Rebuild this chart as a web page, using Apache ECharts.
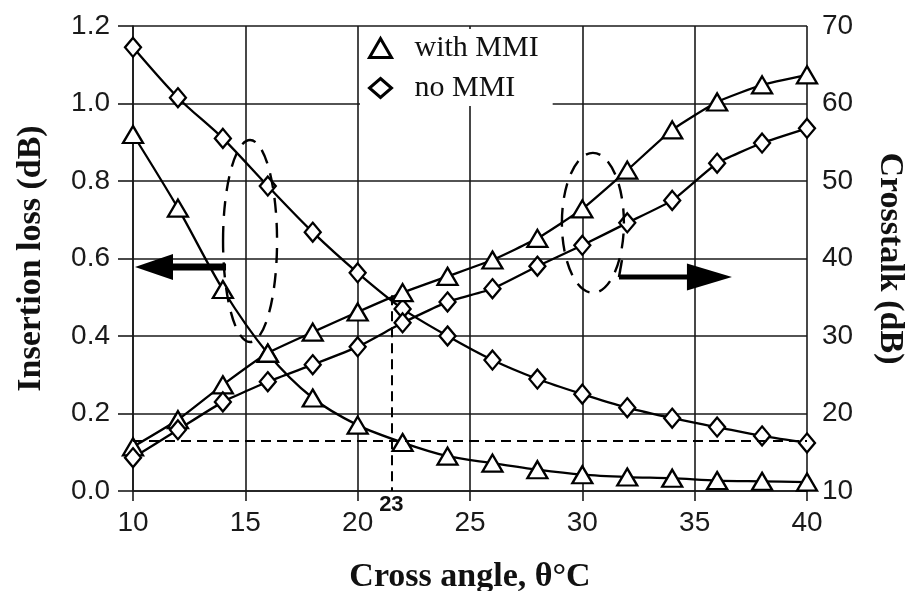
<!DOCTYPE html>
<html>
<head>
<meta charset="utf-8">
<script src="https://cdn.jsdelivr.net/npm/echarts@6/dist/echarts.min.js"></script>
<style>
  html, body { margin: 0; padding: 0; background: #fff; }
  #chart { width: 910px; height: 591px; }
</style>
</head>
<body>
<div id="chart"></div>
<script>
// Cross angle (deg)
const angles = [10, 12, 14, 16, 18, 20, 22, 24, 26, 28, 30, 32, 34, 36, 38, 40];

// Insertion loss (dB), left axis
const lossWithMMI = [0.92, 0.73, 0.52, 0.355, 0.24, 0.17, 0.125, 0.09, 0.072, 0.055, 0.042, 0.036, 0.033, 0.027, 0.025, 0.023];
const lossNoMMI = [1.145, 1.015, 0.91, 0.787, 0.668, 0.563, 0.47, 0.40, 0.338, 0.289, 0.25, 0.215, 0.188, 0.165, 0.142, 0.124];

// Crosstalk (dB), right axis
const xtalkWithMMI = [15.7, 19.2, 23.7, 27.8, 30.5, 33.1, 35.6, 37.7, 39.8, 42.6, 46.4, 51.4, 56.6, 60.2, 62.4, 63.7];
const xtalkNoMMI = [14.3, 17.9, 21.5, 24.1, 26.3, 28.6, 31.7, 34.4, 36.1, 39.0, 41.7, 44.6, 47.5, 52.3, 54.9, 56.8];

// reference lines: loss level and crossing angle
const lossLevel = 0.13;
const crossAngle = 21.5;
const crossLoss = 0.505;
const crossLabel = '23';

const INK = '#111';
const SANS = 'Liberation Sans, Arial, sans-serif';
const SERIF = 'Liberation Serif, Times New Roman, serif';

const pairs = (xs, ys) => xs.map((x, i) => [x, ys[i]]);

const chart = echarts.init(document.getElementById('chart'));

function lineSeries(name, data, yAxisIndex, symbol, size, smooth) {
    return {
        name: name,
        type: 'line',
        yAxisIndex: yAxisIndex,
        data: data,
        symbol: symbol,
        symbolSize: size,
        smooth: smooth,
        lineStyle: { color: '#000', width: 2.3 },
        itemStyle: { color: '#fff', borderColor: '#000', borderWidth: 2.3 },
        emphasis: { disabled: true },
        z: 3
    };
}

const triSize = [20, 17];
const diaSize = [16, 19];

const lossWith = lineSeries('with MMI', pairs(angles, lossWithMMI), 0, 'triangle', triSize, 0.3);
lossWith.markLine = {
    silent: true,
    symbol: ['none', 'none'],
    lineStyle: { color: '#000', width: 2, type: [10, 6] },
    label: { show: false },
    data: [
        [{ coord: [angles[0], lossLevel] }, { coord: [angles[angles.length - 1], lossLevel] }],
        [
            { coord: [crossAngle, crossLoss] },
            {
                coord: [crossAngle, 0],
                label: {
                    show: true, position: 'end', distance: 3, formatter: crossLabel,
                    fontFamily: SANS, fontWeight: 'bold', fontSize: 22, color: INK
                }
            }
        ]
    ]
};

const axisLabelStyle = { fontFamily: SANS, fontSize: 28, color: '#1a1a1a' };
const nameStyle = { fontFamily: SERIF, fontWeight: 'bold', fontSize: 34, color: INK };
const gridLine = { color: '#1a1a1a', width: 1.6 };

const option = {
    animation: false,
    backgroundColor: '#fff',
    grid: { left: 133, right: 103, top: 26, bottom: 100, containLabel: false, outerBoundsMode: 'none' },
    legend: {
        orient: 'vertical',
        left: 360,
        top: 29,
        padding: [4, 14, 3, 8],
        itemGap: 10,
        itemWidth: 22,
        itemHeight: 19,
        backgroundColor: '#fff',
        selectedMode: false,
        itemStyle: { color: '#fff', borderColor: '#000', borderWidth: 3 },
        textStyle: { fontFamily: SERIF, fontSize: 30, color: INK, padding: [0, 0, 0, 18] },
        data: [
            { name: 'with MMI', icon: 'triangle' },
            { name: 'no MMI', icon: 'diamond' }
        ]
    },
    xAxis: {
        type: 'value',
        min: 10,
        max: 40,
        interval: 5,
        name: 'Cross angle, θ°C',
        nameLocation: 'middle',
        nameGap: 69,
        nameTextStyle: nameStyle,
        axisLine: { show: true, lineStyle: gridLine },
        axisTick: { show: true, length: 10, lineStyle: gridLine },
        axisLabel: Object.assign({ margin: 18 }, axisLabelStyle),
        splitLine: { show: true, lineStyle: gridLine }
    },
    yAxis: [
        {
            type: 'value',
            min: 0,
            max: 1.2,
            interval: 0.2,
            name: 'Insertion loss (dB)',
            nameLocation: 'middle',
            nameRotate: 90,
            nameGap: 85,
            nameTextStyle: nameStyle,
            axisLine: { show: true, lineStyle: gridLine },
            axisTick: { show: true, length: 15, lineStyle: gridLine },
            axisLabel: Object.assign({ margin: 23, formatter: v => v.toFixed(1) }, axisLabelStyle),
            splitLine: { show: true, lineStyle: gridLine }
        },
        {
            type: 'value',
            position: 'right',
            min: 10,
            max: 70,
            interval: 10,
            name: 'Crosstalk (dB)',
            nameLocation: 'middle',
            nameRotate: -90,
            nameGap: 66,
            nameTextStyle: nameStyle,
            axisLine: { show: false },
            axisTick: { show: false },
            axisLabel: Object.assign({ margin: 15 }, axisLabelStyle),
            splitLine: { show: false }
        }
    ],
    series: [
        lossWith,
        lineSeries('no MMI', pairs(angles, lossNoMMI), 0, 'diamond', diaSize, 0.3),
        lineSeries('with MMI', pairs(angles, xtalkWithMMI), 1, 'triangle', triSize, 0.15),
        lineSeries('no MMI', pairs(angles, xtalkNoMMI), 1, 'diamond', diaSize, 0.15)
    ]
};

chart.setOption(option);

// dashed ellipses and arrows, anchored in data space of the left axis
function px(x, y) {
    return chart.convertToPixel({ xAxisIndex: 0, yAxisIndex: 0 }, [x, y]);
}

const dashed = { fill: 'transparent', stroke: '#000', lineWidth: 2.4, lineDash: [15, 10] };
const leftOval = px(15.21, 0.645);
const rightOval = px(30.47, 0.692);
const leftTip = px(10.09, 0.578);
const rightTail = px(31.63, 0.552);

chart.setOption({
    graphic: [
        { type: 'ellipse', silent: true, z: 5, shape: { cx: leftOval[0], cy: leftOval[1], rx: 27, ry: 101 }, style: dashed },
        { type: 'ellipse', silent: true, z: 5, shape: { cx: rightOval[0], cy: rightOval[1], rx: 31, ry: 70 }, style: dashed },
        // left arrow
        {
            type: 'polygon', silent: true, z: 6,
            shape: { points: [[leftTip[0], leftTip[1]], [leftTip[0] + 38, leftTip[1] - 13], [leftTip[0] + 38, leftTip[1] + 13]] },
            style: { fill: '#000' }
        },
        {
            type: 'rect', silent: true, z: 6,
            shape: { x: leftTip[0] + 36, y: leftTip[1] - 3.5, width: 55, height: 7 },
            style: { fill: '#000' }
        },
        // right arrow
        {
            type: 'polyline', silent: true, z: 6,
            shape: { points: [[rightTail[0] + 3, rightTail[1] - 17], [rightTail[0], rightTail[1]]] },
            style: { stroke: '#000', lineWidth: 2.5, fill: null }
        },
        {
            type: 'rect', silent: true, z: 6,
            shape: { x: rightTail[0], y: rightTail[1] - 2.5, width: 72, height: 5 },
            style: { fill: '#000' }
        },
        {
            type: 'polygon', silent: true, z: 6,
            shape: { points: [[rightTail[0] + 113, rightTail[1]], [rightTail[0] + 68, rightTail[1] - 13.5], [rightTail[0] + 68, rightTail[1] + 13.5]] },
            style: { fill: '#000' }
        }
    ]
});
</script>
</body>
</html>
